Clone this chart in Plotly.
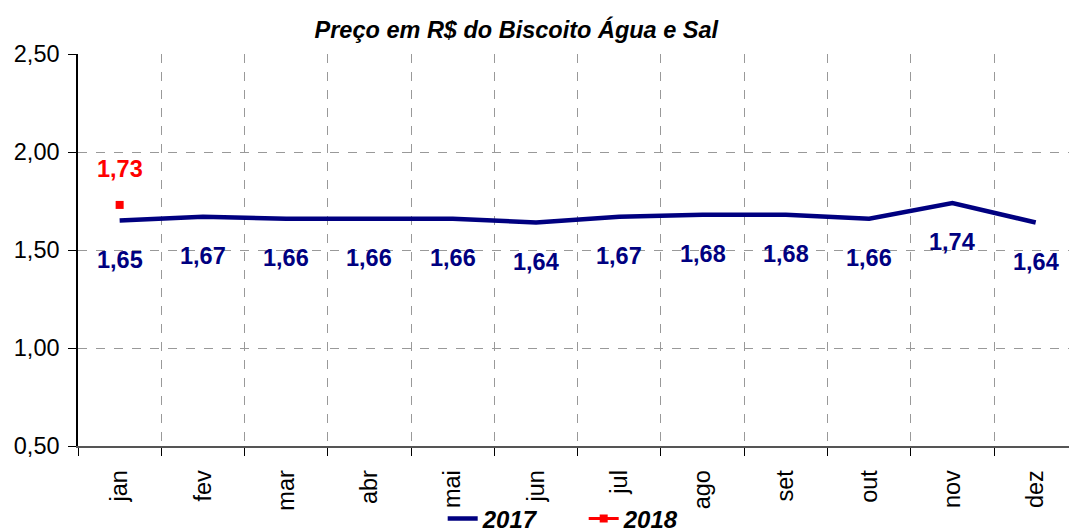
import plotly.graph_objects as go

months = ["jan", "fev", "mar", "abr", "mai", "jun", "jul", "ago", "set", "out", "nov", "dez"]
values_2017 = [1.65, 1.67, 1.66, 1.66, 1.66, 1.64, 1.67, 1.68, 1.68, 1.66, 1.74, 1.64]
values_2018 = [1.73]
y_ticks = [0.5, 1.0, 1.5, 2.0, 2.5]

FONT = "Liberation Sans, Arial, sans-serif"
NAVY = "#000080"
RED = "#FF0000"
FS = 23.5

def fmt(v):
    return f"{v:.2f}".replace(".", ",")

x17 = list(range(len(values_2017)))
x18 = list(range(len(values_2018)))

fig = go.Figure()
fig.add_trace(go.Scatter(x=x17, y=values_2017, mode="lines", name="2017",
                         line=dict(color=NAVY, width=4.5)))
fig.add_trace(go.Scatter(x=x18, y=values_2018, mode="lines+markers", name="2018",
                         line=dict(color=RED, width=3),
                         marker=dict(symbol="square", size=8, color=RED)))

annotations = []
for xi, v in zip(x17, values_2017):
    annotations.append(dict(x=xi, y=v, xref="x", yref="y", text=fmt(v), showarrow=False,
                            yshift=-39, font=dict(family=FONT, size=FS, color=NAVY, weight="bold")))
for xi, v in zip(x18, values_2018):
    annotations.append(dict(x=xi, y=v, xref="x", yref="y", text=fmt(v), showarrow=False,
                            yshift=36, font=dict(family=FONT, size=FS, color=RED, weight="bold")))

fig.update_layout(
    width=1069, height=532,
    margin=dict(l=78, r=0, t=54, b=86, autoexpand=False),
    paper_bgcolor="white", plot_bgcolor="white",
    separators=",.",
    font=dict(family=FONT, color="black"),
    title=dict(text="<b><i>Preço em R$ do Biscoito Água e Sal</i></b>",
               x=0.483, xanchor="center", y=0.944, yanchor="middle",
               font=dict(family=FONT, size=FS, color="black")),
    showlegend=True,
    legend=dict(orientation="h", x=0.368, xanchor="left", y=-0.186, yanchor="middle",
                entrywidth=96, entrywidthmode="pixels",
                font=dict(family=FONT, size=24, color="black", weight="bold", style="italic"),
                bgcolor="rgba(0,0,0,0)"),
    annotations=annotations,
)

fig.update_xaxes(
    range=[-0.5, 11.4],
    tickmode="array", tickvals=x17, ticktext=months,
    tickangle=-90, tickfont=dict(family=FONT, size=FS, color="black"),
    ticks="outside", ticklen=13, tickcolor="rgba(0,0,0,0)",
    showgrid=False, zeroline=False,
    showline=True, linecolor="#555555", linewidth=1.5,
    minor=dict(tickmode="array", tickvals=[i - 0.5 for i in range(12)],
               ticks="outside", ticklen=8, tickcolor="black", tickwidth=1,
               showgrid=True, gridcolor="#999999", griddash="dash", gridwidth=1),
)
fig.update_yaxes(
    range=[0.5, 2.5],
    tickmode="array", tickvals=y_ticks, tickformat=".2f",
    tickfont=dict(family=FONT, size=FS, color="black"),
    ticklabelstandoff=4,
    ticks="outside", ticklen=8, tickcolor="black",
    showgrid=True, gridcolor="#999999", griddash="dash", gridwidth=1,
    zeroline=False, showline=True, linecolor="black", linewidth=1.5,
)

fig.write_html("out.html", config={"displayModeBar": False},
               post_script="document.body.style.margin='0';document.body.style.overflow='hidden';")
